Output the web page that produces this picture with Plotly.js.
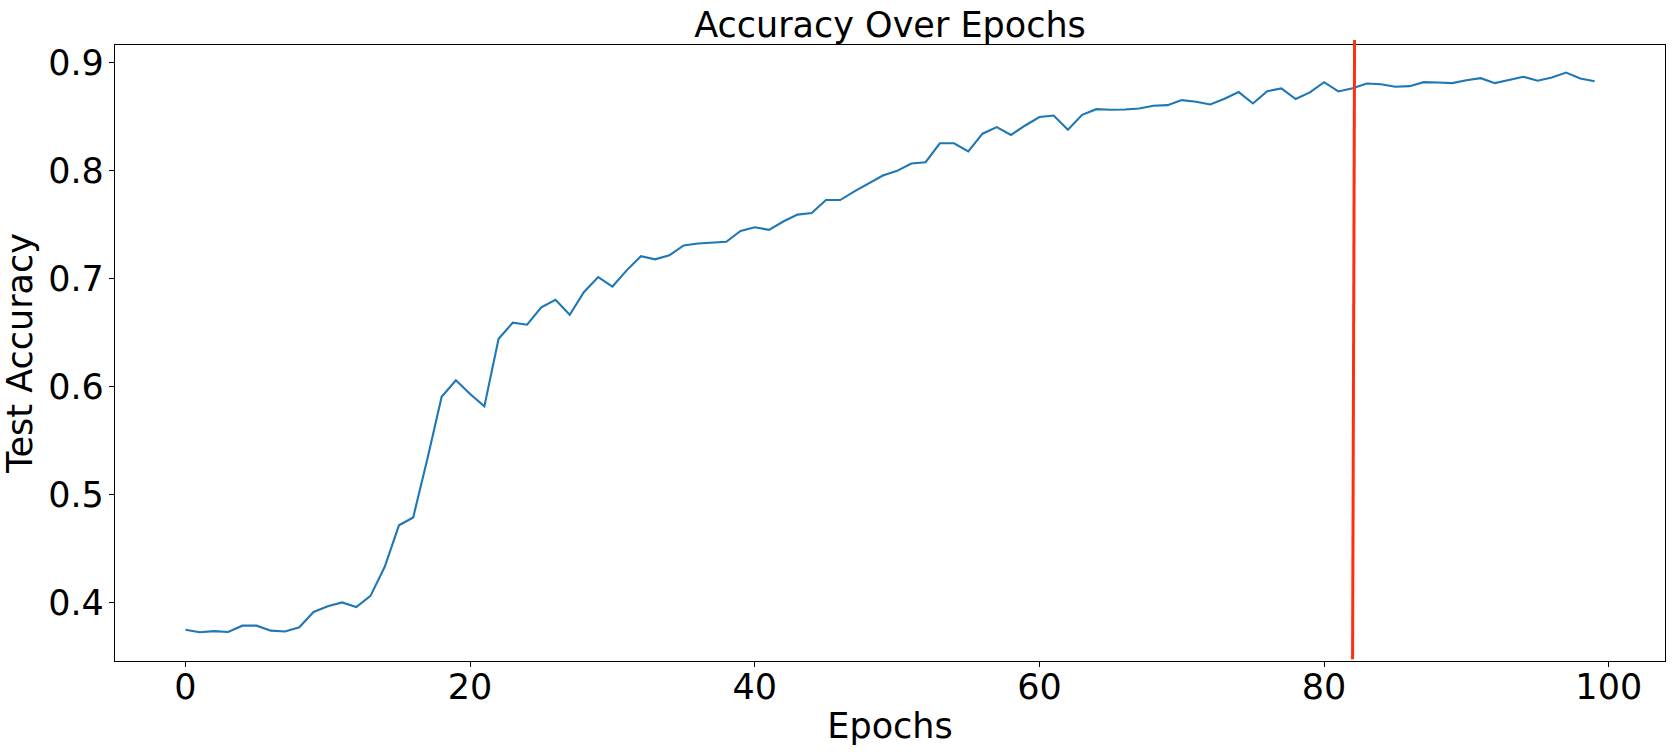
<!DOCTYPE html>
<html>
<head>
<meta charset="utf-8">
<script src="https://cdn.plot.ly/plotly-3.0.1.min.js"></script>
<style>
  html, body { margin: 0; padding: 0; background: #fff; }
  #accuracy-plot { width: 1674px; height: 754px; }
</style>
</head>
<body>
<div id="accuracy-plot"></div>
<script>
/* ACCURACY DATA */
var testAccuracy = [
	0.3747, 0.3724, 0.3735, 0.3727, 0.3785, 0.3785, 0.3739, 0.3731, 0.3770, 0.3912,
	0.3965, 0.4000, 0.3958, 0.4061, 0.4330, 0.4714, 0.4787, 0.5330, 0.5903, 0.6057,
	0.5930, 0.5815, 0.6440, 0.6590, 0.6571, 0.6732, 0.6801, 0.6663, 0.6874, 0.7012,
	0.6924, 0.7074, 0.7205, 0.7176, 0.7213, 0.7305, 0.7323, 0.7332, 0.7338, 0.7439,
	0.7473, 0.7449, 0.7526, 0.7590, 0.7605, 0.7725, 0.7725, 0.7805, 0.7878, 0.7952,
	0.7995, 0.8063, 0.8075, 0.8250, 0.8250, 0.8176, 0.8339, 0.8400, 0.8327, 0.8415,
	0.8493, 0.8507, 0.8376, 0.8514, 0.8566, 0.8560, 0.8563, 0.8572, 0.8597, 0.8603,
	0.8650, 0.8634, 0.8610, 0.8662, 0.8724, 0.8619, 0.8733, 0.8758, 0.8660, 0.8721,
	0.8816, 0.8730, 0.8760, 0.8804, 0.8797, 0.8773, 0.8779, 0.8816, 0.8813, 0.8807,
	0.8834, 0.8853, 0.8807, 0.8834, 0.8866, 0.8829, 0.8859, 0.8905, 0.8850, 0.8825
];
var epochs = testAccuracy.map(function(v, i) { return i; });

var xTicks = [0, 20, 40, 60, 80, 100];
var yTicks = [0.4, 0.5, 0.6, 0.7, 0.8, 0.9];

// red marker line (slightly slanted, drawn over the plot)
var markerEpoch = [82.0, 82.14];

var graphDiv = document.getElementById('accuracy-plot');
var font = 'DejaVu Sans, Liberation Sans, sans-serif';

var data = [{
	x: epochs,
	y: testAccuracy,
	type: 'scatter',
	mode: 'lines',
	line: {
		color: '#1f77b4',
		width: 2.1
	},
	hoverinfo: 'x+y'
}];

var layout = {
	width: 1674,
	height: 754,
	margin: { l: 115, r: 9, t: 45, b: 93, pad: 0 },
	title: {
		text: 'Accuracy Over Epochs',
		font: { family: font, size: 35, color: '#000' },
		x: 0.5,
		xref: 'paper',
		y: 0.9675,
		yref: 'container',
		yanchor: 'middle'
	},
	xaxis: {
		title: {
			text: 'Epochs',
			font: { family: font, size: 35, color: '#000' },
			standoff: 7
		},
		range: [-4.95, 103.95],
		tickvals: xTicks,
		ticktext: xTicks.map(String),
		ticks: 'outside',
		ticklen: 5,
		tickwidth: 1.1,
		tickcolor: '#000',
		tickfont: { family: font, size: 35, color: '#000' },
		ticklabelstandoff: -10,
		showline: true,
		mirror: true,
		linecolor: '#000',
		linewidth: 1.1,
		showgrid: false,
		zeroline: false,
		automargin: false
	},
	yaxis: {
		title: {
			text: 'Test Accuracy',
			font: { family: font, size: 35, color: '#000' },
			standoff: 6
		},
		range: [0.3458, 0.916],
		tickvals: yTicks,
		ticktext: yTicks.map(function(v) { return v.toFixed(1); }),
		ticks: 'outside',
		ticklen: 5,
		tickwidth: 1.1,
		tickcolor: '#000',
		tickfont: { family: font, size: 35, color: '#000' },
		ticklabelstandoff: -2,
		showline: true,
		mirror: true,
		linecolor: '#000',
		linewidth: 1.1,
		showgrid: false,
		zeroline: false,
		automargin: false
	},
	shapes: [{
		type: 'line',
		xref: 'x',
		yref: 'paper',
		x0: markerEpoch[0],
		x1: markerEpoch[1],
		y0: 0.003,
		y1: 1.008,
		line: { color: '#ff2e0e', width: 3 },
		layer: 'above'
	}],
	showlegend: false,
	paper_bgcolor: '#ffffff',
	plot_bgcolor: '#ffffff'
};

Plotly.newPlot(graphDiv, data, layout, { displayModeBar: false, staticPlot: true });
</script>
</body>
</html>
